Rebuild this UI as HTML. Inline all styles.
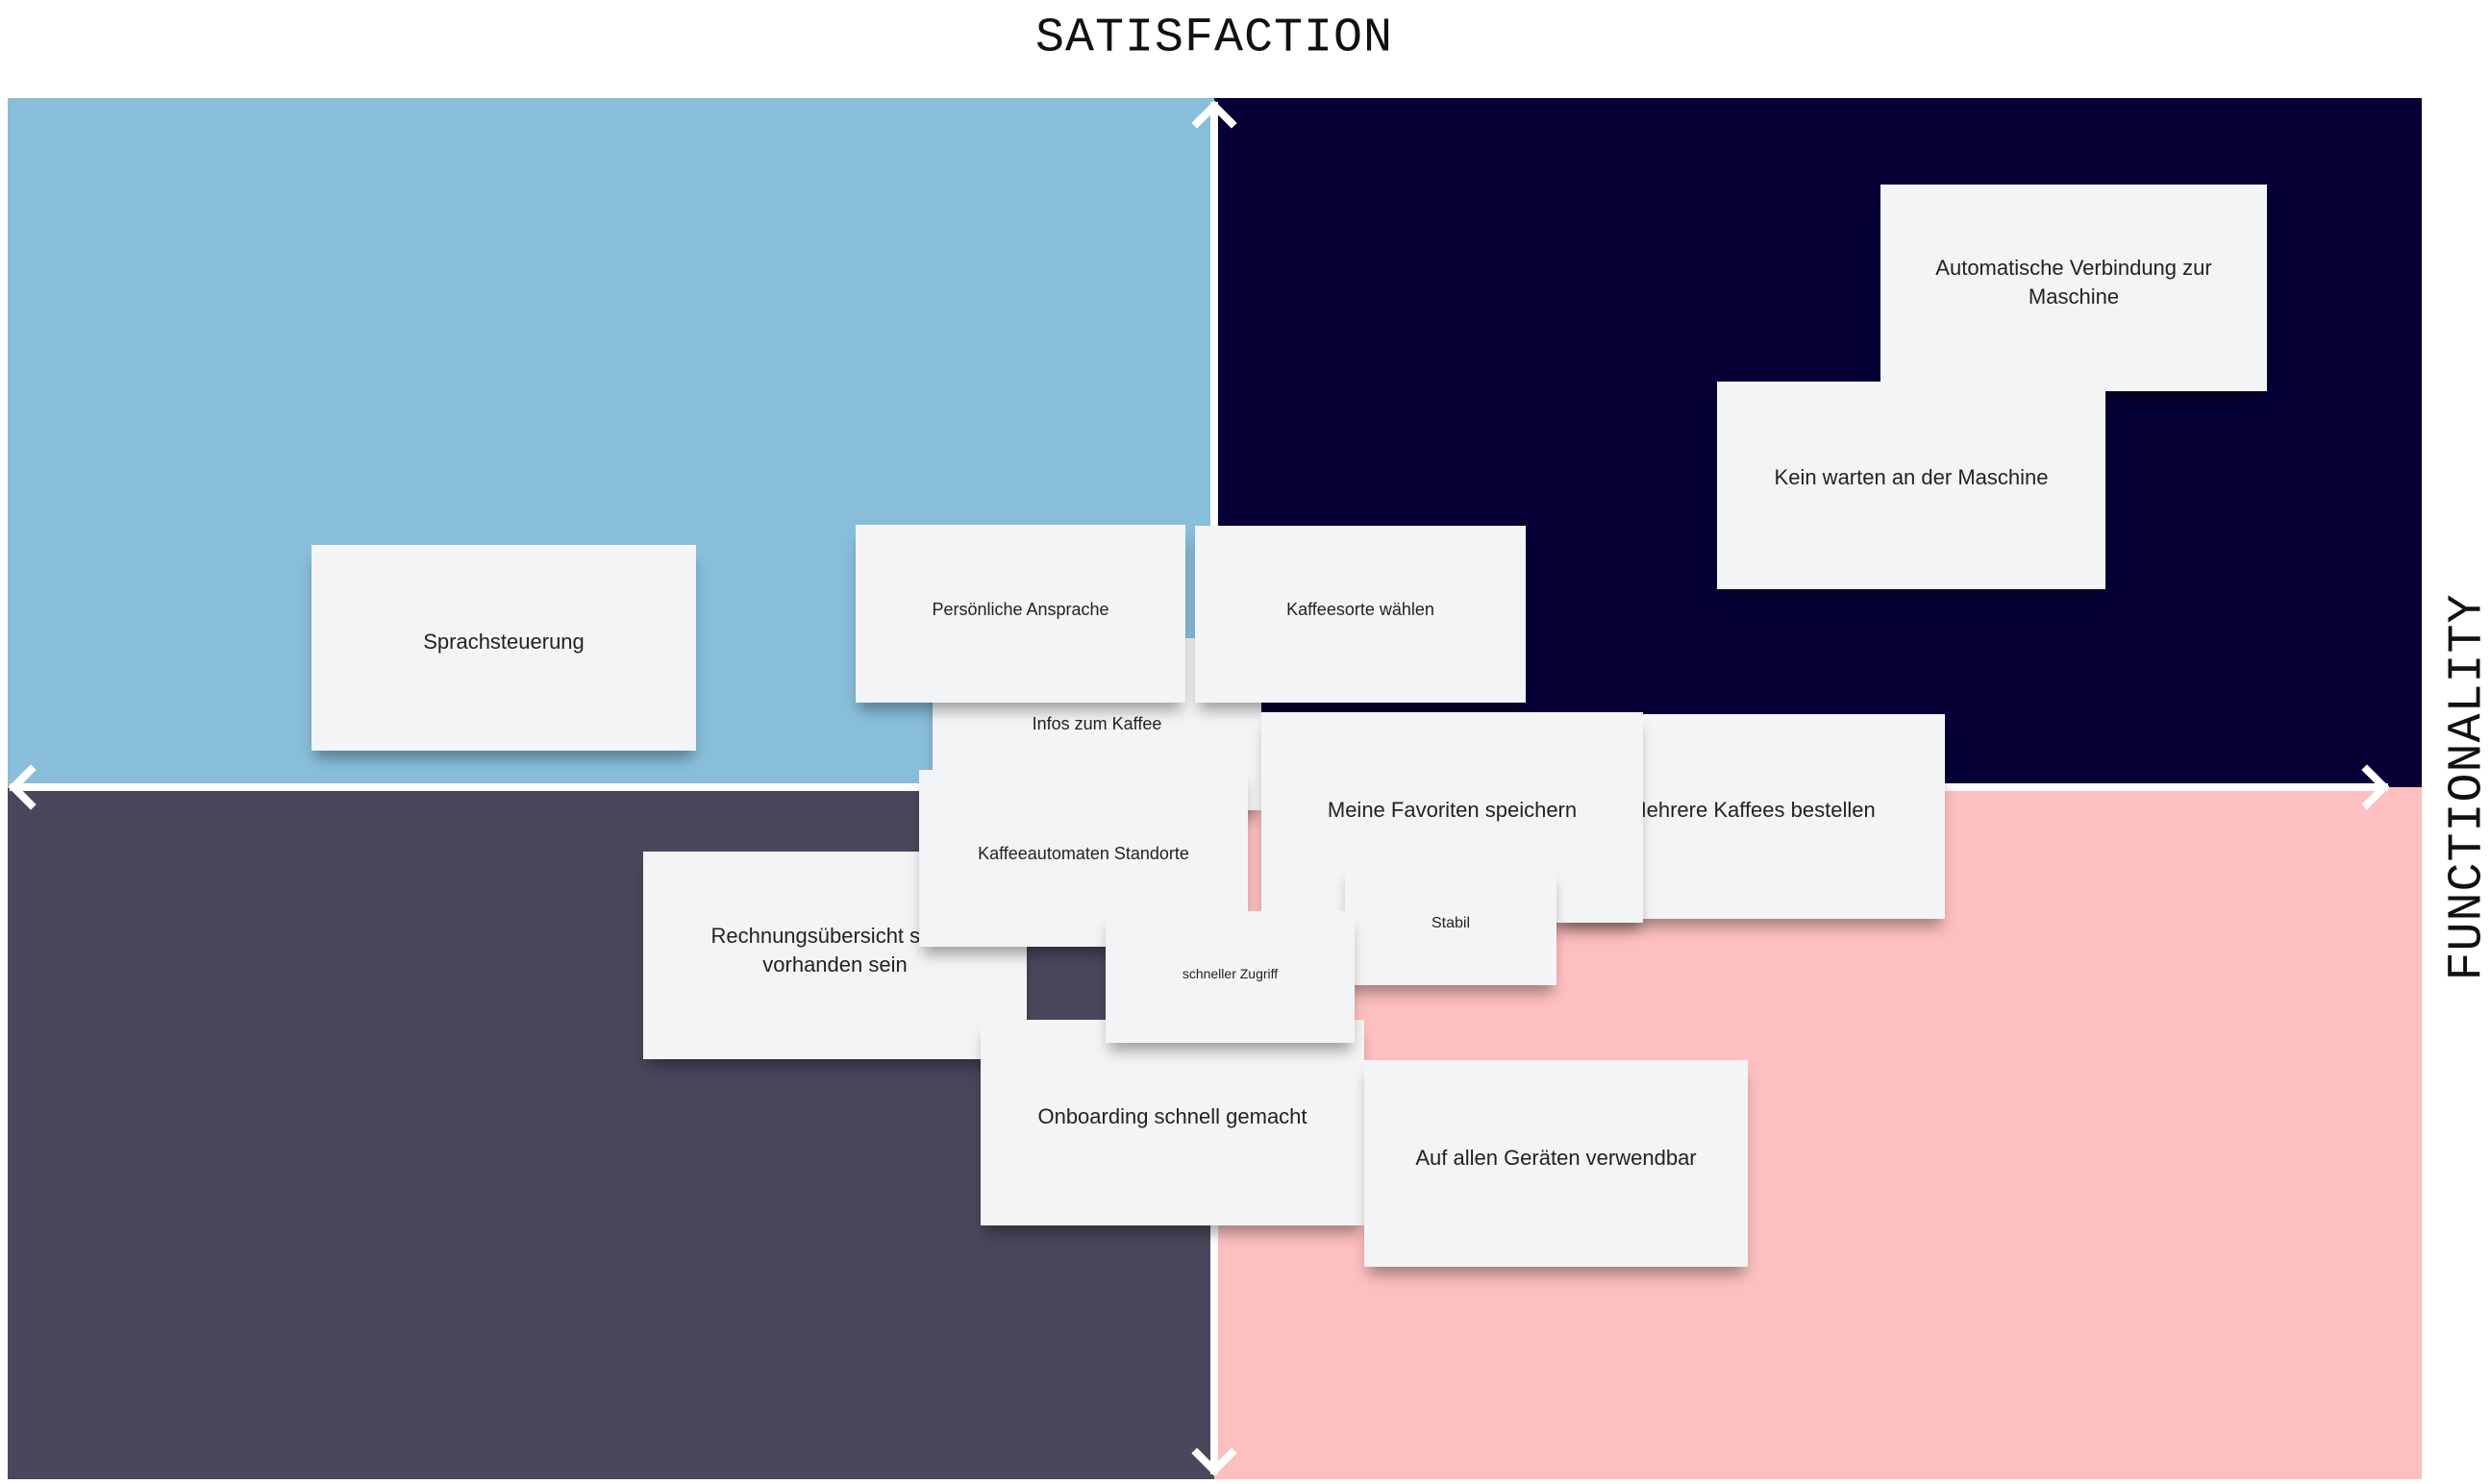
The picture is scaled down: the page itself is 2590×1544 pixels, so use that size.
<!DOCTYPE html>
<html><head><meta charset="utf-8"><style>
html,body{margin:0;padding:0;background:#fff;}
body{width:2590px;height:1544px;position:relative;overflow:hidden;font-family:"Liberation Sans",sans-serif;}
.q{position:absolute;}
.n{position:absolute;background:#f3f4f6;box-shadow:0 12px 14px -4px rgba(0,0,0,.35);}
.t{position:absolute;left:0;right:0;text-align:center;transform:translateY(-50%);color:#222;font-size:22px;line-height:30px;}
.title{position:absolute;font-family:"Liberation Mono",monospace;font-size:50px;color:#111;letter-spacing:1px;}
</style></head><body>
<div class="q" style="left:8px;top:102px;width:1255px;height:717px;background:#89bedb"></div>
<div class="q" style="left:1263px;top:102px;width:1256px;height:717px;background:#060036"></div>
<div class="q" style="left:8px;top:819px;width:1255px;height:720px;background:#4a475c"></div>
<div class="q" style="left:1263px;top:819px;width:1256px;height:720px;background:#fdbfbf"></div>
<svg style="position:absolute;left:0;top:0" width="2590" height="1544">
<g stroke="#fff" stroke-width="8" fill="none" stroke-linecap="square">
<line x1="1263" y1="110" x2="1263" y2="1530"/>
<line x1="14" y1="819" x2="2480" y2="819"/>
<polyline points="1245,128 1263,110 1281,128"/>
<polyline points="1245,1512 1263,1530 1281,1512"/>
<polyline points="32,801 14,819 32,837"/>
<polyline points="2462,801 2480,819 2462,837"/>
</g></svg>
<div class="title" style="left:1263px;top:40px;transform:translate(-50%,-50%)">SATISFACTION</div>
<div class="title" style="left:2567px;top:819px;transform:translate(-50%,-50%) rotate(-90deg)">FUNCTIONALITY</div>

<div class="n" style="left:324px;top:567px;width:400px;height:214px"><div class="t" style="top:101px">Sprachsteuerung</div></div>
<div class="n" style="left:1956px;top:192px;width:402px;height:215px"><div class="t" style="top:102px">Automatische Verbindung zur<br>Maschine</div></div>
<div class="n" style="left:1786px;top:397px;width:404px;height:216px"><div class="t" style="top:100px">Kein warten an der Maschine</div></div>
<div class="n" style="left:970px;top:664px;width:342px;height:179px"><div class="t" style="top:89px;font-size:18px">Infos zum Kaffee</div></div>
<div class="n" style="left:890px;top:546px;width:343px;height:185px"><div class="t" style="top:88px;font-size:18px">Persönliche Ansprache</div></div>
<div class="n" style="left:1243px;top:547px;width:344px;height:184px"><div class="t" style="top:87px;font-size:18px">Kaffeesorte wählen</div></div>
<div class="n" style="left:669px;top:886px;width:399px;height:216px"><div class="t" style="top:103px">Rechnungsübersicht sollte<br>vorhanden sein</div></div>
<div class="n" style="left:956px;top:801px;width:342px;height:184px"><div class="t" style="top:87px;font-size:18px">Kaffeeautomaten Standorte</div></div>
<div class="n" style="left:1622px;top:743px;width:401px;height:213px"><div class="t" style="top:100px">Mehrere Kaffees bestellen</div></div>
<div class="n" style="left:1312px;top:741px;width:397px;height:219px"><div class="t" style="top:102px">Meine Favoriten speichern</div></div>
<div class="n" style="left:1399px;top:901px;width:220px;height:124px"><div class="t" style="top:60px;font-size:16px">Stabil</div></div>
<div class="n" style="left:1020px;top:1061px;width:399px;height:214px"><div class="t" style="top:101px">Onboarding schnell gemacht</div></div>
<div class="n" style="left:1150px;top:948px;width:259px;height:137px"><div class="t" style="top:65px;font-size:14px">schneller Zugriff</div></div>
<div class="n" style="left:1419px;top:1103px;width:399px;height:215px"><div class="t" style="top:102px">Auf allen Geräten verwendbar</div></div>
</body></html>
